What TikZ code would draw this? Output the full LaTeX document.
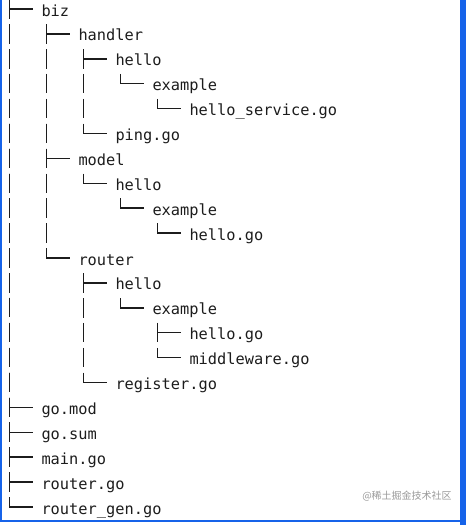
\documentclass[tikz,border=0pt]{standalone}
\usepackage{fontspec}
\setmonofont{DejaVu Sans Mono}
\newfontfamily\cjkfont{Noto Sans CJK SC}
\usetikzlibrary{calc}
\definecolor{inkc}{RGB}{28,28,28}
\definecolor{framec}{RGB}{22,99,233}
\tikzset{
  entry/.style={anchor=west, inner xsep=0pt, inner ysep=0pt, outer xsep=6.75pt, outer ysep=0pt,
    text height=10.5pt, text depth=0pt, text=inkc, font=\ttfamily\fontsize{11.5}{14}\selectfont},
  stem/.style={draw=inkc, line width=1.1pt, dash pattern=on 14.6pt off 4.07pt},
  arm/.style={solid, line cap=rect},
}
\begin{document}
\begin{tikzpicture}[x=0.75pt, y=-0.75pt]
  \useasboundingbox (0,0) rectangle (466,525);
  % frame of the window
  \fill[framec] (0,0) rectangle (2.3,522);
  \fill[framec] (460,0) rectangle (466,525);
  \fill[framec] (0,519.5) rectangle (466,522);

  % entries, one per row
  \node[entry] (biz)       at (32.5,9)     {biz};
  \node[entry] (handler)   at (69.5,33.9)  {handler};
  \node[entry] (hhello)    at (106.5,58.8) {hello};
  \node[entry] (hexample)  at (143.5,83.7) {example};
  \node[entry] (hsvc)      at (180.5,108.6) {hello\_service.go};
  \node[entry] (ping)      at (106.5,133.5) {ping.go};
  \node[entry] (model)     at (69.5,158.4) {model};
  \node[entry] (mhello)    at (106.5,183.3) {hello};
  \node[entry] (mexample)  at (143.5,208.2) {example};
  \node[entry] (mhellogo)  at (180.5,233.1) {hello.go};
  \node[entry] (router)    at (69.5,258)   {router};
  \node[entry] (rhello)    at (106.5,282.9) {hello};
  \node[entry] (rexample)  at (143.5,307.8) {example};
  \node[entry] (rhellogo)  at (180.5,332.7) {hello.go};
  \node[entry] (rmiddle)   at (180.5,357.6) {middleware.go};
  \node[entry] (register)  at (106.5,382.5) {register.go};
  \node[entry] (gomod)     at (32.5,407.4) {go.mod};
  \node[entry] (gosum)     at (32.5,432.3) {go.sum};
  \node[entry] (maingo)    at (32.5,457.2) {main.go};
  \node[entry] (routergo)  at (32.5,482.1) {router.go};
  \node[entry] (routergen) at (32.5,507)   {router\_gen.go};

  % tops of the stems
  \coordinate (root-s)     at (9.3,-0.75);
  \coordinate (biz-s)      at (46.3,24.15);
  \coordinate (handler-s)  at (83.3,49.05);
  \coordinate (hhello-s)   at (120.3,73.95);
  \coordinate (hexample-s) at (157.3,98.85);
  \coordinate (model-s)    at (83.3,173.55);
  \coordinate (mhello-s)   at (120.3,198.45);
  \coordinate (mexample-s) at (157.3,223.35);
  \coordinate (router-s)   at (83.3,273.15);
  \coordinate (rhello-s)   at (120.3,298.05);
  \coordinate (rexample-s) at (157.3,322.95);

  % branches
  \draw[stem] (root-s) -- (root-s |- biz.west) edge[arm] (biz.west);
  \draw[stem] (biz-s) -- (biz-s |- handler.west) edge[arm] (handler.west);
  \draw[stem] (handler-s) -- (handler-s |- hhello.west) edge[arm] (hhello.west);
  \draw[stem] (hhello-s) -- (hhello-s |- hexample.west) edge[arm] (hexample.west);
  \draw[stem] (hexample-s) -- (hexample-s |- hsvc.west) edge[arm] (hsvc.west);
  \draw[stem] (handler-s) -- (handler-s |- ping.west) edge[arm] (ping.west);
  \draw[stem] (biz-s) -- (biz-s |- model.west) edge[arm] (model.west);
  \draw[stem] (model-s) -- (model-s |- mhello.west) edge[arm] (mhello.west);
  \draw[stem] (mhello-s) -- (mhello-s |- mexample.west) edge[arm] (mexample.west);
  \draw[stem] (mexample-s) -- (mexample-s |- mhellogo.west) edge[arm] (mhellogo.west);
  \draw[stem] (biz-s) -- (biz-s |- router.west) edge[arm] (router.west);
  \draw[stem] (router-s) -- (router-s |- rhello.west) edge[arm] (rhello.west);
  \draw[stem] (rhello-s) -- (rhello-s |- rexample.west) edge[arm] (rexample.west);
  \draw[stem] (rexample-s) -- (rexample-s |- rhellogo.west) edge[arm] (rhellogo.west);
  \draw[stem] (rexample-s) -- (rexample-s |- rmiddle.west) edge[arm] (rmiddle.west);
  \draw[stem] (router-s) -- (router-s |- register.west) edge[arm] (register.west);
  \draw[stem] (root-s) -- (root-s |- gomod.west) edge[arm] (gomod.west);
  \draw[stem] (root-s) -- (root-s |- gosum.west) edge[arm] (gosum.west);
  \draw[stem] (root-s) -- (root-s |- maingo.west) edge[arm] (maingo.west);
  \draw[stem] (root-s) -- (root-s |- routergo.west) edge[arm] (routergo.west);
  \draw[stem] (root-s) -- (root-s |- routergen.west) edge[arm] (routergen.west);

  % site mark
  \node[anchor=east, inner sep=0pt, text=black!40, font=\cjkfont\fontsize{7.5}{9}\selectfont] (mark) at (452,496) {@稀土掘金技术社区};
\end{tikzpicture}
\end{document}
